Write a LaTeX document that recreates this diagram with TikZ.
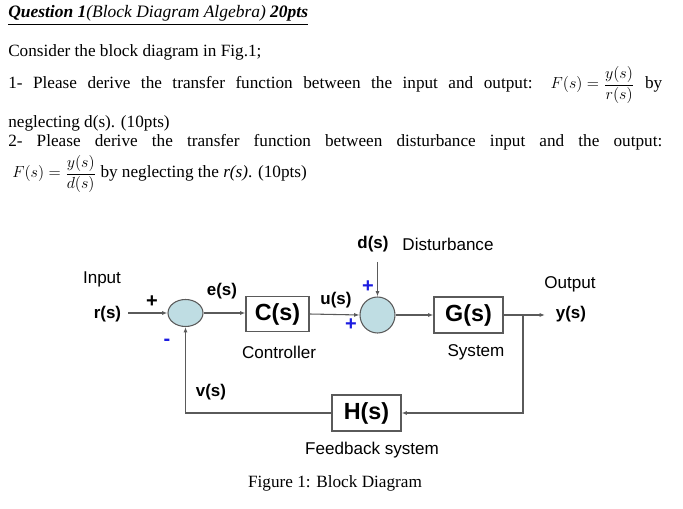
\documentclass[tikz,border=0pt]{standalone}
\usepackage{amsmath}
\usepackage{fontspec}
\setmainfont{Liberation Serif}
\newfontfamily\diagfont{Liberation Sans}
\usetikzlibrary{arrows.meta,positioning,calc,shapes.geometric}
\definecolor{sumblue}{HTML}{BFDDE3}
\definecolor{signblue}{HTML}{1C1CE0}
\definecolor{linegray}{HTML}{5A5A5A}
\newcommand{\bodysize}{\fontsize{12.9}{15}\selectfont}

\begin{document}
\begin{tikzpicture}[x=0.75pt,y=-0.75pt,
  txt/.style={anchor=base west, inner sep=0pt, font=\bodysize},
  lbl/.style={font=\diagfont\bfseries\fontsize{12.7}{14}\selectfont, inner sep=0pt},
  plainlbl/.style={font=\diagfont\fontsize{12.8}{14}\selectfont, inner sep=0pt},
  sign/.style={font=\diagfont\bfseries\fontsize{15}{16}\selectfont, text=signblue, inner sep=0pt},
  blk/.style={draw=linegray, line width=0.8pt, inner sep=0pt,
    font=\diagfont\bfseries\fontsize{17.5}{20}\selectfont},
  sumnode/.style={ellipse, draw=linegray, line width=0.8pt, fill=sumblue, inner sep=0pt},
  wire/.style={draw=linegray, line width=0.8pt},
  arr/.style={wire, -{Latex[length=4pt,width=3pt]}}]
\useasboundingbox (0,0) rectangle (683,509);

% question text
\node[txt, font=\fontsize{13.1}{15}\selectfont] (title) at (8,18) {\underline{\textbf{\textit{Question 1}}\textit{(Block Diagram Algebra)} \textbf{\textit{20pts}}}};
\node[txt] (intro) at (8,57) {Consider the block diagram in Fig.1;};
\node[txt] (qone) at (8,89) {\makebox[490.5pt][s]{1- Please derive the transfer function between the input and output: \mbox{$F(s)=\dfrac{y(s)}{r(s)}$} by}};
\node[txt] (qonea) at (8,128) {neglecting d(s). (10pts)};
\node[txt] (qtwo) at (8,147) {\makebox[490.5pt][s]{2- Please derive the transfer function between disturbance input and the output:}};
\node[txt] (qtwoa) at (12,178) {\mbox{$F(s)=\dfrac{y(s)}{d(s)}$} by neglecting the \textit{r(s)}. (10pts)};

% blocks
\node[sumnode, minimum width=26.25pt, minimum height=20.25pt] (sumone) at (185.5,313) {};
\node[blk, minimum width=47.25pt, minimum height=26.25pt] (cblk) at (277.5,314) {C(s)};
\node[sumnode, minimum width=26.25pt, minimum height=27pt] (sumtwo) at (377.5,315) {};
\node[blk, minimum width=51.75pt, minimum height=27pt] (gblk) at (468.5,315) {G(s)};
\node[blk, minimum width=51.75pt, minimum height=27pt] (hblk) at (366.5,413) {H(s)};

\coordinate (rin) at (128,313);
\coordinate (din) at (377.5,262);
\coordinate (branch) at (523,315);
\coordinate (yout) at (545,315);

% connectors
\draw[arr] (rin) -- (sumone.west);
\draw[arr] (sumone.east) -- (sumone.east -| cblk.west);
\draw[arr] (cblk.east) -- (sumtwo.west);
\draw[arr] (din) -- (sumtwo.north);
\draw[arr] (sumtwo.east) -- (gblk.west);
\draw[arr] (gblk.east) -- (yout);
\draw[arr] (branch) |- (hblk.east);
\draw[arr] (hblk.west) -| (sumone.south);

% labels
\node[plainlbl] (input) at (102,279) {Input};
\node[lbl] (rlbl) at (107.5,314) {r(s)};
\node[sign, text=black] (plusr) at (152,302) {+};
\node[sign] (minusv) at (167,342) {-};
\node[lbl] (elbl) at (222,291) {e(s)};
\node[plainlbl] (ctrl) at (279,352) {Controller};
\node[lbl] (ulbl) at (336,300) {u(s)};
\node[sign] (plusu) at (351,325) {+};
\node[sign] (plusd) at (368,287) {+};
\node[lbl] (dlbl) at (373,244) {d(s)};
\node[plainlbl] (dist) at (448,244) {Disturbance};
\node[plainlbl] (sys) at (476,352) {System};
\node[plainlbl] (output) at (570,284) {Output};
\node[lbl] (ylbl) at (571,314) {y(s)};
\node[lbl] (vlbl) at (211,392) {v(s)};
\node[plainlbl] (fbk) at (372,450) {Feedback system};
\node[font=\bodysize, inner sep=0pt] (figcap) at (335,483) {Figure 1: Block Diagram};
\end{tikzpicture}
\end{document}
